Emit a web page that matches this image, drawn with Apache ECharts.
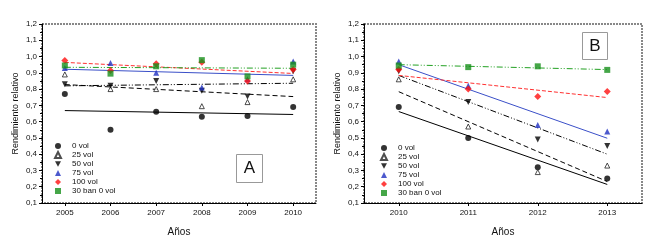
<!DOCTYPE html>
<html>
<head>
<meta charset="utf-8">
<script src="https://cdn.jsdelivr.net/npm/echarts@6/dist/echarts.min.js"></script>
<style>
  html, body { margin: 0; padding: 0; background: #fff; }
  #chart { width: 651px; height: 242px; }
</style>
</head>
<body>
<div id="chart"></div>
<script>
// categorias (anos)
var yearsA = ['2005', '2006', '2007', '2008', '2009', '2010'];
var yearsB = ['2010', '2011', '2012', '2013'];
var yTicks = [0.1, 1.2, 0.1]; // min, max, paso

var names = ['0 vol', '25 vol', '50 vol', '75 vol', '100 vol', '30 ban 0 vol'];

// panel A: valores observados
var a0 = [0.77, 0.55, 0.66, 0.63, 0.635, 0.69];
var a25 = [0.89, 0.80, 0.80, 0.695, 0.72, 0.86];
var a50 = [0.83, 0.82, 0.85, 0.79, 0.755, 0.91];
var a75 = [0.93, 0.96, 0.90, 0.81, 0.86, 0.97];
var a100 = [0.975, 0.915, 0.955, 0.965, 0.85, 0.92];
var a30 = [0.945, 0.895, 0.94, 0.978, 0.878, 0.95];
// panel A: rectas de ajuste (inicio, fin)
var aFit0 = [0.668, 0.644];
var aFit25 = [0.828, 0.754];
var aFit50 = [0.82, 0.836];
var aFit75 = [0.922, 0.884];
var aFit100 = [0.964, 0.896];
var aFit30 = [0.934, 0.928];

// panel B: valores observados
var b0 = [0.69, 0.50, 0.32, 0.25];
var b25 = [0.86, 0.57, 0.29, 0.33];
var b50 = [0.91, 0.72, 0.49, 0.45];
var b75 = [0.97, 0.82, 0.58, 0.54];
var b100 = [0.92, 0.80, 0.755, 0.785];
var b30 = [0.945, 0.935, 0.94, 0.918];
// panel B: rectas de ajuste (inicio, fin)
var bFit0 = [0.662, 0.214];
var bFit25 = [0.784, 0.232];
var bFit50 = [0.884, 0.40];
var bFit75 = [0.95, 0.498];
var bFit100 = [0.884, 0.748];
var bFit30 = [0.95, 0.92];

var downTri = 'path://M0,0 L10,0 L5,9 Z';
var marks = [
    { symbol: 'circle', size: 6, itemStyle: { color: '#000' } },
    { symbol: 'triangle', size: 5, itemStyle: { color: '#fff', borderColor: '#222', borderWidth: 1 } },
    { symbol: downTri, size: 6, itemStyle: { color: '#000' } },
    { symbol: 'triangle', size: 6, itemStyle: { color: '#1f2fc0' } },
    { symbol: 'diamond', size: 7, itemStyle: { color: '#ff1010' } },
    { symbol: 'rect', size: 6, itemStyle: { color: '#17901a' } }
];
var fitStyles = [
    { color: '#000', type: 'solid' },
    { color: '#000', type: [5, 3] },
    { color: '#000', type: [6, 2, 1, 2, 1, 2] },
    { color: '#3a4fc8', type: 'solid' },
    { color: '#ff3030', type: [4, 2] },
    { color: '#22a022', type: [6, 2, 1, 2, 1, 2] }
];

var seriesA = [a0, a25, a50, a75, a100, a30];
var seriesB = [b0, b25, b50, b75, b100, b30];
var fitsA = [aFit0, aFit25, aFit50, aFit75, aFit100, aFit30];
var fitsB = [bFit0, bFit25, bFit50, bFit75, bFit100, bFit30];

var labelFont = { fontFamily: 'Liberation Sans', fontSize: 8, color: '#111' };

function yAxis(idx) {
    return {
        type: 'value', gridIndex: idx,
        min: yTicks[0], max: yTicks[1], interval: yTicks[2],
        name: 'Rendimiento relativo', nameLocation: 'middle', nameGap: 22,
        nameTextStyle: { fontFamily: 'Liberation Sans', fontSize: 9, color: '#111' },
        axisLine: { show: true, lineStyle: { color: '#000', width: 1 } },
        axisTick: { show: true, length: 3, lineStyle: { color: '#000' } },
        minorTick: { show: true, splitNumber: 2, length: 2, lineStyle: { color: '#000' } },
        splitLine: { show: false },
        axisLabel: Object.assign({ margin: 5, formatter: function (v) { return v.toFixed(1).replace('.', ','); } }, labelFont)
    };
}
function xAxis(idx, cats) {
    return {
        type: 'category', gridIndex: idx, data: cats, boundaryGap: true,
        name: 'Años', nameLocation: 'middle', nameGap: 24,
        nameTextStyle: { fontFamily: 'Liberation Sans', fontSize: 10, color: '#111' },
        axisLine: { show: true, onZero: false, lineStyle: { color: '#000', width: 1 } },
        axisTick: { show: true, alignWithLabel: true, length: 3, lineStyle: { color: '#000' } },
        splitLine: { show: false },
        axisLabel: Object.assign({ margin: 6 }, labelFont)
    };
}

var series = [];
function addPanel(idx, data, fits, n) {
    for (var i = 0; i < names.length; i++) {
        series.push({
            name: names[i] + ' ajuste ' + idx, type: 'line',
            xAxisIndex: idx, yAxisIndex: idx,
            data: [[0, fits[i][0]], [n - 1, fits[i][1]]],
            symbol: 'none', silent: true, z: 2,
            lineStyle: { color: fitStyles[i].color, type: fitStyles[i].type, width: 1 }
        });
    }
    for (var j = 0; j < names.length; j++) {
        series.push({
            name: names[j], type: 'scatter',
            xAxisIndex: idx, yAxisIndex: idx,
            data: data[j], symbol: marks[j].symbol, symbolSize: marks[j].size,
            itemStyle: marks[j].itemStyle, z: 3
        });
    }
}
addPanel(0, seriesA, fitsA, yearsA.length);
addPanel(1, seriesB, fitsB, yearsB.length);

function legend(left, top) {
    return {
        data: names, orient: 'vertical', left: left, top: top,
        itemWidth: 6, itemHeight: 6, itemGap: 1, padding: 0,
        textStyle: { fontFamily: 'Liberation Sans', fontSize: 8, lineHeight: 8, color: '#111', padding: [0, 0, 0, 6] }
    };
}

function letterBox(x, y, w, h, letter) {
    return {
        type: 'group', left: x, top: y,
        children: [
            { type: 'rect', shape: { x: 0, y: 0, width: w, height: h },
              style: { fill: '#fff', stroke: '#999', lineWidth: 1 } },
            { type: 'text', x: w / 2, y: h / 2,
              style: { text: letter, fontFamily: 'Liberation Sans', fontSize: 17, fill: '#111', align: 'center', verticalAlign: 'middle' } }
        ]
    };
}

var option = {
    animation: false,
    grid: [
        { left: 42, right: 335, top: 24, bottom: 35, show: true, borderColor: '#888', borderWidth: 2, borderType: [2, 1] },
        { left: 364, right: 9, top: 24, bottom: 35, show: true, borderColor: '#888', borderWidth: 2, borderType: [2, 1] }
    ],
    xAxis: [xAxis(0, yearsA), xAxis(1, yearsB)],
    yAxis: [yAxis(0), yAxis(1)],
    legend: [legend(54, 142), legend(380, 144)],
    graphic: [letterBox(236, 154, 26, 28, 'A'), letterBox(582, 32, 25, 27, 'B')],
    series: series
};

var myChart = echarts.init(document.getElementById('chart'));
myChart.setOption(option);
</script>
</body>
</html>
